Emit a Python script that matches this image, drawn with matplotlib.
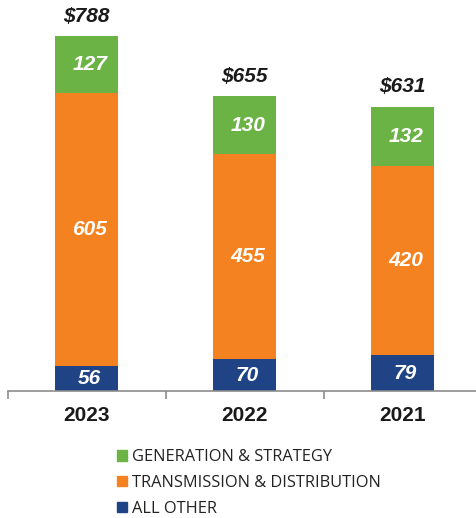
import numpy as np
import matplotlib.pyplot as plt
from matplotlib.patches import Patch

# data
years = ["2023", "2022", "2021"]
all_other = [56, 70, 79]
trans_dist = [605, 455, 420]
gen_strategy = [127, 130, 132]
totals = ["$788", "$655", "$631"]

GREEN = "#6AB344"
ORANGE = "#F58220"
BLUE = "#1F4384"

plt.rcParams["font.family"] = ["Liberation Sans", "DejaVu Sans"]

W, H = 477, 518
fig = plt.figure(figsize=(W / 100, H / 100), dpi=100)
# axes placed in pixel terms
left_px, right_px = 7.5, 481.5
bottom_px, top_px = 391, 8
ax = fig.add_axes([left_px / W, (H - bottom_px) / H,
                   (right_px - left_px) / W, (bottom_px - top_px) / H])

x = np.arange(len(years))
width = 0.40
b1 = np.array(all_other)
b2 = b1 + np.array(trans_dist)
tot = b2 + np.array(gen_strategy)

ax.bar(x, all_other, width, color=BLUE)
ax.bar(x, trans_dist, width, bottom=b1, color=ORANGE)
ax.bar(x, gen_strategy, width, bottom=b2, color=GREEN)

lab = dict(color="white", fontsize=15, fontweight="bold", fontstyle="italic",
           ha="center", va="center")
for i in range(len(years)):
    ax.text(x[i] + 0.02, all_other[i] / 2, str(all_other[i]), **lab)
    ax.text(x[i] + 0.02, b1[i] + trans_dist[i] / 2, str(trans_dist[i]), **lab)
    ax.text(x[i] + 0.02, b2[i] + gen_strategy[i] / 2, str(gen_strategy[i]), **lab)
    ax.annotate(totals[i], (x[i], tot[i]), xytext=(0, 7.5), textcoords="offset points",
                ha="center", va="bottom", fontsize=15, fontweight="bold",
                fontstyle="italic", color="#1a1a1a")

ax.set_xlim(-0.5, len(years) - 0.5)
ax.set_ylim(0, (bottom_px - top_px) / (355 / 788))
for s in ["top", "right", "left"]:
    ax.spines[s].set_visible(False)
ax.spines["bottom"].set_color("#8c8c8c")
ax.spines["bottom"].set_linewidth(1.2)
ax.set_yticks([])
ax.set_xticks(x)
ax.set_xticklabels(years, fontsize=15, fontweight="bold", color="#1a1a1a")
ax.tick_params(axis="x", which="major", length=0, pad=11)
ax.set_xticks(np.arange(-0.5, len(years), 1.0), minor=True)
ax.tick_params(axis="x", which="minor", length=6, color="#8c8c8c", width=1.2)

handles = [Patch(color=GREEN, label="GENERATION & STRATEGY"),
           Patch(color=ORANGE, label="TRANSMISSION & DISTRIBUTION"),
           Patch(color=BLUE, label="ALL OTHER")]
fig.legend(handles=handles, loc="upper left", bbox_to_anchor=(109 / W, 1 - 441 / H),
           frameon=False, prop={"family": ["Open Sans", "DejaVu Sans"], "size": 11.8},
           handlelength=0.6, handleheight=0.6, handletextpad=0.3,
           labelspacing=0.6, borderpad=0, labelcolor="#222222")

fig.savefig("out.png", dpi=100, facecolor="white")
